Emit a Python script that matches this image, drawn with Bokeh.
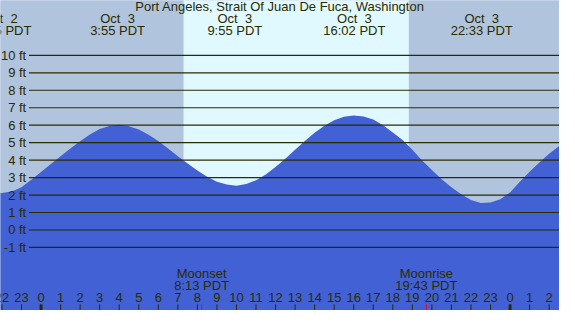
from bokeh.plotting import figure
from bokeh.models import Range1d
from bokeh.embed import file_html
from bokeh.resources import INLINE
from bokeh.core.properties import value

# ---- data (hours since Oct 3 00:00 PDT, feet) ----
title = "Port Angeles, Strait Of Juan De Fuca, Washington"

tide_hours = [-2.1, -2.0, -1.5, -1.0, -0.5, 0.0, 0.5, 1.0, 1.5, 2.0, 2.5, 3.0, 3.5, 4.0,
              4.5, 5.0, 5.5, 6.0, 6.5, 7.0, 7.5, 8.0, 8.5, 9.0, 9.5, 10.0,
              10.5, 11.0, 11.5, 12.0, 12.5, 13.0, 13.5, 14.0, 14.5, 15.0, 15.5, 16.0,
              16.5, 17.0, 17.5, 18.0, 18.5, 19.0, 19.5, 20.0, 20.5, 21.0, 21.5, 22.0, 22.5,
              23.0, 23.5, 24.0, 24.5, 25.0, 25.5, 26.0, 26.5, 26.6]
tide_ft = [2.12, 2.12, 2.20, 2.45, 2.88, 3.32, 3.78, 4.22, 4.66, 5.08, 5.47, 5.78, 5.96, 6.02,
           5.94, 5.75, 5.46, 5.09, 4.66, 4.22, 3.80, 3.40, 3.05, 2.76, 2.60, 2.54,
           2.63, 2.85, 3.18, 3.60, 4.08, 4.60, 5.10, 5.57, 5.97, 6.28, 6.48, 6.55,
           6.50, 6.33, 6.00, 5.58, 5.15, 4.60, 3.98, 3.43, 2.91, 2.45, 2.05, 1.72, 1.54,
           1.57, 1.76, 2.15, 2.76, 3.33, 3.87, 4.37, 4.80, 4.86]

extreme_hours = [-2.083, 3.917, 9.917, 16.033, 22.55]
extreme_dates = ["Oct\u00a0 2", "Oct\u00a0 3", "Oct\u00a0 3", "Oct\u00a0 3", "Oct\u00a0 3"]
extreme_times = ["21:55 PDT", "3:55 PDT", "9:55 PDT", "16:02 PDT", "22:33 PDT"]

sunrise = 7.29
sunset = 18.82

moon_hours = [8.217, 19.717]
moon_names = ["Moonset", "Moonrise"]
moon_times = ["8:13 PDT", "19:43 PDT"]

ft_levels = [-1, 0, 1, 2, 3, 4, 5, 6, 7, 8, 9, 10]
ft_labels = ["-1 ft", "0 ft", "1 ft", "2 ft", "3 ft", "4 ft", "5 ft", "6 ft", "7 ft", "8 ft", "9 ft", "10 ft"]

tick_hours = list(range(-2, 27))
tick_labels = [str(h % 24) for h in tick_hours]
midnight_hours = [0, 24]

# ---- style ----
NIGHT = "#B0C4DE"
DAY = "#E0F8FF"
WATER = "#4161D4"
INK = "#2b2b00"
FONT = value("Liberation Sans")
FS = "13px"

XMIN, XMAX = -2.075, 26.53
YMIN, YMAX = -4.61, 13.14

p = figure(width=559, height=310, x_range=Range1d(XMIN, XMAX), y_range=Range1d(YMIN, YMAX),
           x_axis_type=None, y_axis_type=None, toolbar_location=None, output_backend="svg",
           min_border=0)
p.grid.visible = False
p.outline_line_color = None
p.background_fill_color = NIGHT
p.border_fill_color = NIGHT

# night / day background
p.quad(left=[XMIN - 1, sunset], right=[sunrise, XMAX + 1], bottom=YMIN - 1, top=YMAX + 1,
       fill_color=NIGHT, line_color=None)
p.quad(left=[sunrise], right=[sunset], bottom=YMIN - 1, top=YMAX + 1,
       fill_color=DAY, line_color=None)

# water
p.varea(x=tide_hours, y1=YMIN - 1, y2=tide_ft, fill_color=WATER)

# level lines and labels
p.segment(x0=-0.62, x1=XMAX + 1, y0=ft_levels, y1=ft_levels, line_color=INK, line_width=1.2)
p.text(x=-0.76, y=ft_levels, text=ft_labels, text_align="right", text_baseline="middle",
       text_font=FONT, text_font_size=FS, text_color=INK)

# title and extremes labels
p.text(x=[(XMIN + XMAX) / 2], y=[12.79], text=[title], text_align="center", text_baseline="middle",
       text_font=FONT, text_font_size=FS, text_color=INK)
p.text(x=extreme_hours, y=12.1, text=extreme_dates, text_align="center", text_baseline="middle",
       text_font=FONT, text_font_size=FS, text_color=INK)
p.text(x=extreme_hours, y=11.45, text=extreme_times, text_align="center", text_baseline="middle",
       text_font=FONT, text_font_size=FS, text_color=INK)

# moon labels
p.text(x=moon_hours, y=-2.5, text=moon_names, text_align="center", text_baseline="middle",
       text_font=FONT, text_font_size=FS, text_color=INK)
p.text(x=moon_hours, y=-3.15, text=moon_times, text_align="center", text_baseline="middle",
       text_font=FONT, text_font_size=FS, text_color=INK)

# hour ticks
p.segment(x0=tick_hours, x1=tick_hours, y0=YMIN, y1=-4.26, line_color=INK, line_width=1)
p.segment(x0=midnight_hours, x1=midnight_hours, y0=YMIN, y1=-4.26, line_color=INK, line_width=3)
p.segment(x0=moon_hours, x1=moon_hours, y0=YMIN, y1=-4.26, line_color="red", line_width=1)
p.text(x=tick_hours, y=-3.86, text=tick_labels, text_align="center", text_baseline="middle",
       text_font=FONT, text_font_size=FS, text_color=INK)

open("out.html", "w").write(file_html(p, INLINE))
